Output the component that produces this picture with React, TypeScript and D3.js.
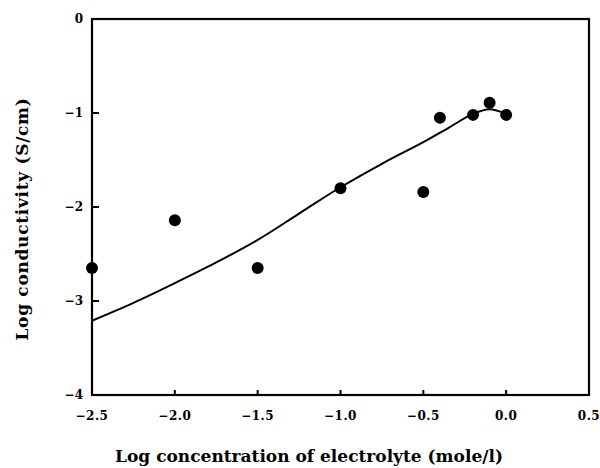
import React from "react";
import * as d3 from "d3";

// measured points
const concX = [-2.5, -2.0, -1.5, -1.0, -0.5, -0.4, -0.2, -0.1, 0.0];
const condY = [-2.65, -2.14, -2.65, -1.80, -1.84, -1.05, -1.02, -0.89, -1.02];

// fitted curve
const fitX = [-2.5, -2.25, -2.0, -1.75, -1.5, -1.25, -1.0, -0.75, -0.5, -0.35, -0.2, -0.1, 0.0];
const fitY = [-3.21, -3.02, -2.81, -2.59, -2.35, -2.07, -1.79, -1.54, -1.31, -1.16, -1.01, -0.96, -1.01];

const xTicks = [-2.5, -2.0, -1.5, -1.0, -0.5, 0.0, 0.5];
const yTicks = [0, -1, -2, -3, -4];

const W = 600;
const H = 468;
const left = 92, right = 589, top = 19, bottom = 395;
const font = "'DejaVu Serif', serif";

export default function App() {
  const x = d3.scaleLinear().domain([-2.5, 0.5]).range([left, right]);
  const y = d3.scaleLinear().domain([-4, 0]).range([bottom, top]);

  const line = d3
    .line<number>()
    .x((d, i) => x(fitX[i]))
    .y((d) => y(d))
    .curve(d3.curveCatmullRom.alpha(0.5));

  const fmtX = (v: number) => (v < 0 ? "\u2212" : "") + Math.abs(v).toFixed(1);
  const fmtY = (v: number) => (v < 0 ? "\u2212" : "") + Math.abs(v);

  return (
    <svg
      width={W}
      height={H}
      style={{ position: "absolute", left: 0, top: 0, background: "#fff" }}
    >
      <path d={line(fitY) || ""} fill="none" stroke="#000" strokeWidth={2} />
      {concX.map((c, i) => (
        <circle key={i} cx={x(c)} cy={y(condY[i])} r={6} fill="#000" />
      ))}
      <rect
        x={left}
        y={top}
        width={right - left}
        height={bottom - top}
        fill="none"
        stroke="#000"
        strokeWidth={2.2}
      />
      {xTicks.map((t) => (
        <g key={"x" + t}>
          <line x1={x(t)} x2={x(t)} y1={bottom} y2={bottom - 5} stroke="#000" strokeWidth={2} />
          <text
            x={x(t)}
            y={420}
            textAnchor="middle"
            fontFamily={font}
            fontWeight="bold"
            fontSize={12}
            letterSpacing={0.5}
          >
            {fmtX(t)}
          </text>
        </g>
      ))}
      {yTicks.map((t) => (
        <g key={"y" + t}>
          <line x1={left} x2={left + 7} y1={y(t)} y2={y(t)} stroke="#000" strokeWidth={2} />
          <text
            x={83}
            y={y(t) + 4}
            textAnchor="end"
            fontFamily={font}
            fontWeight="bold"
            fontSize={12}
          >
            {fmtY(t)}
          </text>
        </g>
      ))}
      <text
        x={309}
        y={462}
        textAnchor="middle"
        fontFamily={font}
        fontWeight="bold"
        fontSize={17}
      >
        Log concentration of electrolyte (mole/l)
      </text>
      <text
        transform="translate(28, 219) rotate(-90)"
        textAnchor="middle"
        fontFamily={font}
        fontWeight="bold"
        fontSize={17}
        letterSpacing={0.7}
      >
        Log conductivity (S/cm)
      </text>
    </svg>
  );
}
